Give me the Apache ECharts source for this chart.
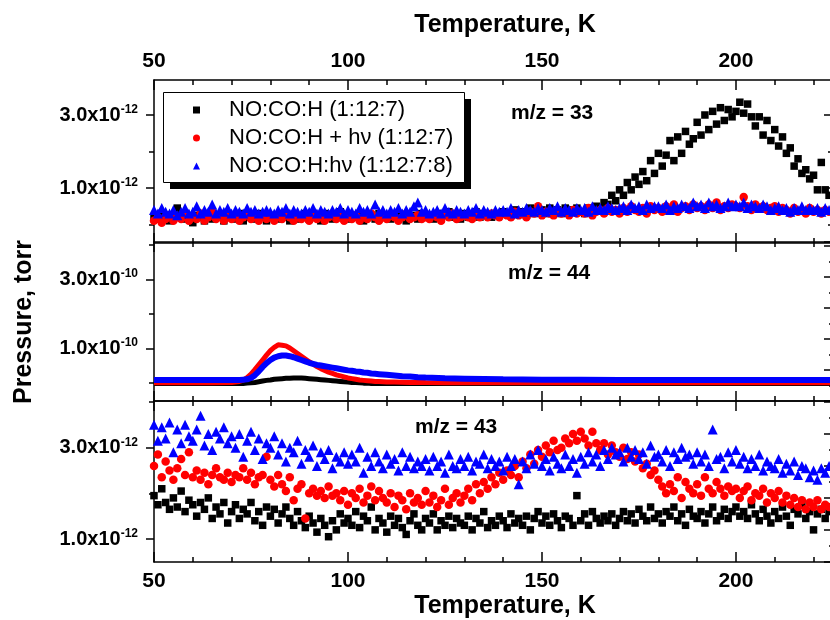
<!DOCTYPE html>
<html><head><meta charset="utf-8">
<script src="https://cdn.jsdelivr.net/npm/echarts@6/dist/echarts.min.js"></script>
<style>html,body{margin:0;padding:0;background:#fff}#c{width:830px;height:620px}</style>
</head><body><div id="c"></div>
<script>
// Temperature (K) for the scatter panels (m/z = 33 and m/z = 43)
const temps = [
50,51,52,53,54,55,56,57,58,59,
60,61,62,63,64,65,66,67,68,69,
70,71,72,73,74,75,76,77,78,79,
80,81,82,83,84,85,86,87,88,89,
90,91,92,93,94,95,96,97,98,99,
100,101,102,103,104,105,106,107,108,109,
110,111,112,113,114,115,116,117,118,119,
120,121,122,123,124,125,126,127,128,129,
130,131,132,133,134,135,136,137,138,139,
140,141,142,143,144,145,146,147,148,149,
150,151,152,153,154,155,156,157,158,159,
160,161,162,163,164,165,166,167,168,169,
170,171,172,173,174,175,176,177,178,179,
180,181,182,183,184,185,186,187,188,189,
190,191,192,193,194,195,196,197,198,199,
200,201,202,203,204,205,206,207,208,209,
210,211,212,213,214,215,216,217,218,219,
220,221,222,223,224];

// m/z = 33, pressure in units of 1e-12 torr
const mz33_noco = [
0.2,0.15,0.3,0.25,0.1,0.2,0.45,0.25,0.15,0.2,
0.05,0.25,0.2,0.1,0.3,0.15,0.25,0.2,0.1,0.25,
0.2,0.15,0.3,0.1,0.2,0.25,0.15,0.3,0.2,0.1,
0.25,0.2,0.15,0.3,0.2,0.1,0.25,0.15,0.2,0.3,
0.15,0.25,0.2,0.1,0.3,0.2,0.15,0.25,0.35,0.2,
0.15,0.25,0.2,0.3,0.1,0.2,0.25,0.15,0.3,0.2,
0.25,0.15,0.2,0.3,0.25,0.1,0.2,0.25,0.15,0.3,
0.2,0.25,0.15,0.3,0.2,0.25,0.35,0.2,0.25,0.15,
0.3,0.2,0.25,0.35,0.2,0.3,0.25,0.2,0.3,0.25,
0.35,0.3,0.25,0.4,0.3,0.35,0.25,0.45,0.3,0.35,
0.4,0.3,0.45,0.35,0.4,0.3,0.45,0.4,0.35,0.45,
0.35,0.3,0.45,0.35,0.5,0.45,0.6,0.55,0.8,0.65,
0.95,0.8,1.15,0.95,1.3,1.1,1.45,1.2,1.75,1.4,
1.95,1.6,1.9,2.3,1.75,2.4,1.95,2.55,2.2,2.35,
2.8,2.45,3.0,2.6,3.1,2.75,3.2,2.85,3.15,2.95,
3.1,3.35,3.05,3.3,2.95,2.7,2.95,2.45,2.85,2.3,
2.6,2.15,2.4,1.95,2.1,1.6,1.8,1.4,1.5,1.25,
1.35,0.95,1.7,0.95,0.8];
const mz33_nocoHv = [
0.1,0.2,0.05,0.15,0.25,0.1,0.2,0.15,0.3,0.1,
0.2,0.15,0.3,0.1,0.2,0.35,0.15,0.25,0.1,0.2,
0.15,0.25,0.1,0.2,0.3,0.15,0.2,0.1,0.25,0.15,
0.2,0.1,0.25,0.15,0.3,0.2,0.1,0.2,0.15,0.25,
0.1,0.2,0.15,0.25,0.1,0.2,0.3,0.15,0.2,0.1,
0.2,0.15,0.25,0.1,0.2,0.15,0.3,0.2,0.1,0.2,
0.15,0.25,0.2,0.1,0.2,0.3,0.15,0.2,0.25,0.15,
0.2,0.15,0.25,0.2,0.1,0.25,0.2,0.3,0.15,0.2,
0.25,0.2,0.15,0.3,0.2,0.25,0.2,0.3,0.25,0.2,
0.3,0.25,0.2,0.35,0.25,0.3,0.2,0.35,0.3,0.5,
0.25,0.35,0.3,0.25,0.4,0.3,0.35,0.25,0.4,0.3,
0.35,0.3,0.45,0.25,0.35,0.4,0.3,0.45,0.35,0.4,
0.3,0.45,0.35,0.5,0.4,0.35,0.45,0.3,0.5,0.4,
0.45,0.35,0.5,0.4,0.55,0.35,0.45,0.5,0.4,0.55,
0.45,0.5,0.4,0.55,0.45,0.6,0.4,0.5,0.45,0.55,
0.5,0.45,0.75,0.5,0.4,0.55,0.45,0.5,0.4,0.45,
0.5,0.35,0.45,0.4,0.3,0.45,0.35,0.4,0.3,0.45,
0.35,0.4,0.3,0.4,0.35];
const mz33_nocoHv8 = [
0.4,0.3,0.45,0.35,0.3,0.4,0.25,0.35,0.45,0.3,
0.35,0.5,0.3,0.4,0.35,0.55,0.3,0.4,0.35,0.45,
0.3,0.4,0.35,0.3,0.45,0.35,0.4,0.3,0.35,0.4,
0.35,0.3,0.4,0.35,0.45,0.3,0.4,0.35,0.3,0.4,
0.35,0.45,0.3,0.4,0.35,0.3,0.4,0.35,0.45,0.3,
0.4,0.35,0.3,0.45,0.35,0.4,0.3,0.55,0.35,0.4,
0.3,0.4,0.35,0.45,0.3,0.4,0.35,0.5,0.6,0.35,
0.4,0.3,0.35,0.4,0.3,0.45,0.35,0.3,0.4,0.35,
0.3,0.4,0.35,0.45,0.3,0.4,0.35,0.3,0.4,0.35,
0.4,0.35,0.45,0.3,0.4,0.35,0.45,0.4,0.35,0.45,
0.4,0.35,0.45,0.4,0.5,0.35,0.45,0.4,0.35,0.45,
0.4,0.45,0.35,0.5,0.4,0.45,0.4,0.5,0.45,0.4,
0.45,0.5,0.4,0.55,0.45,0.5,0.4,0.55,0.45,0.5,
0.5,0.45,0.55,0.4,0.5,0.45,0.55,0.5,0.45,0.6,
0.5,0.55,0.45,0.6,0.5,0.55,0.45,0.5,0.6,0.5,
0.55,0.5,0.6,0.45,0.55,0.5,0.45,0.55,0.5,0.4,
0.45,0.5,0.4,0.45,0.35,0.45,0.4,0.5,0.4,0.45,
0.4,0.45,0.35,0.45,0.4];

// m/z = 44, pressure in units of 1e-10 torr
const temps44 = [50,55,60,65,70,72,73,74,75,76,77,78,79,80,81,82,83,84,85,86,87,88,89,90,91,92,93,94,95,96,97,98,99,100,101,102,103,104,105,106,107,108,109,110,112,114,116,118,120,125,130,140,150,160,170,180,190,200,210,220,224.5];
const mz44_noco = [-0.02,-0.02,-0.02,-0.02,-0.02,-0.02,-0.02,
-0.01,0,0.01,0.03,0.05,0.07,0.08,0.1,0.11,0.12,
0.13,0.13,0.14,0.14,0.14,0.13,0.12,0.11,0.1,0.09,
0.08,0.07,0.06,0.05,0.04,0.03,0.02,0.01,0.01,0,
-0.01,-0.01,-0.02,-0.02,-0.02,-0.02,-0.02,
-0.02,-0.02,-0.02,-0.02,-0.02,-0.02,-0.02,
-0.02,-0.02,-0.02,-0.02,-0.02,-0.02,-0.02,-0.02,-0.02,-0.02];
const mz44_nocoHv = [0,0,0,0,0.01,0.04,0.08,
0.15,0.25,0.38,0.52,0.66,0.8,0.93,1.03,1.1,1.09,
1.07,1.01,0.93,0.85,0.77,0.69,0.61,0.54,0.47,0.41,
0.36,0.31,0.27,0.23,0.2,0.17,0.14,0.12,0.1,0.08,
0.07,0.06,0.05,0.04,0.035,0.03,0.025,
0.02,0.015,0.01,0.01,0.005,0,0,
0,0,0,0,0,0,0,0,0,0];
const mz44_nocoHv8 = [0.08,0.08,0.08,0.08,0.08,0.08,0.09,
0.1,0.14,0.22,0.33,0.46,0.57,0.66,0.73,0.77,0.79,
0.79,0.77,0.74,0.7,0.66,0.62,0.58,0.55,0.52,0.5,
0.48,0.46,0.44,0.42,0.4,0.38,0.36,0.35,0.33,0.32,
0.3,0.29,0.27,0.26,0.25,0.24,0.23,
0.21,0.19,0.18,0.16,0.15,0.13,0.12,
0.1,0.09,0.09,0.08,0.08,0.08,0.08,0.08,0.08,0.08];

// m/z = 43, pressure in units of 1e-12 torr
const mz43_noco = [
1.95,1.75,2.1,1.8,1.65,1.9,1.7,2.05,1.6,1.85,
1.75,1.5,1.8,1.65,1.9,1.45,1.7,1.55,1.8,1.35,
1.6,1.75,1.45,1.65,1.55,1.8,1.4,1.6,1.3,1.7,
1.5,1.65,1.35,1.55,1.7,1.45,1.3,1.6,1.4,1.25,
1.5,1.35,1.15,1.45,1.3,1.05,1.4,1.2,1.55,1.35,
1.45,1.3,1.6,1.25,1.5,1.4,1.7,1.2,1.45,1.35,
1.15,1.5,1.3,1.45,1.25,1.1,1.4,1.55,1.3,1.2,
1.45,1.35,1.55,1.2,1.4,1.3,1.5,1.25,1.45,1.35,
1.3,1.5,1.2,1.45,1.35,1.6,1.25,1.4,1.3,1.5,
1.4,1.25,1.55,1.35,1.45,1.3,1.5,1.2,1.45,1.6,
1.35,1.5,1.3,1.55,1.4,1.25,1.5,1.45,1.3,1.95,
1.4,1.55,1.3,1.6,1.45,1.35,1.5,1.4,1.55,1.3,
1.45,1.6,1.4,1.55,1.35,1.65,1.5,1.4,1.7,1.45,
1.55,1.35,1.6,1.5,1.7,1.4,1.55,1.3,1.65,1.5,
1.45,1.6,1.35,1.55,1.7,1.4,1.5,1.65,1.45,1.6,
1.7,1.5,1.6,1.45,1.75,1.55,1.4,1.65,1.5,1.35,
1.6,1.45,1.7,1.5,1.3,1.65,1.55,1.75,1.45,1.6,
1.2,1.55,1.65,1.45,1.6];
const mz43_nocoHv = [
2.6,2.85,2.35,2.7,2.5,2.3,2.55,2.75,2.4,2.9,
2.35,2.5,2.3,2.45,2.2,2.4,2.55,2.35,2.3,2.45,
2.25,2.4,2.35,2.55,2.3,2.45,2.2,2.35,2.4,2.8,
2.3,2.15,2.4,2.2,2.05,2.35,1.85,2.1,2.2,1.45,
2.0,2.1,1.95,2.05,1.9,2.15,1.95,2.0,1.85,2.05,
1.75,2.0,1.9,2.1,1.8,1.95,2.15,1.85,2.05,1.9,
1.8,2.0,1.7,1.95,1.85,1.65,2.0,1.8,1.9,1.75,
2.05,1.8,1.95,1.7,1.85,2.1,1.75,1.9,2.0,1.8,
1.95,2.1,1.85,2.2,2.0,2.25,2.1,2.35,2.2,2.45,
2.3,2.5,2.4,2.6,2.35,2.7,2.55,2.85,2.65,2.95,
2.8,3.05,2.9,3.15,2.95,3.0,3.2,3.1,3.3,3.15,
3.35,3.2,3.05,3.35,3.1,2.95,3.1,2.85,3.05,2.9,
2.8,3.0,2.75,2.9,2.7,2.85,2.55,2.65,2.4,2.5,
2.3,2.15,2.0,2.2,2.05,2.35,1.9,2.25,2.1,2.0,
2.2,1.95,2.35,2.1,2.0,2.25,2.1,1.95,2.15,2.05,
2.1,1.9,2.05,2.15,1.85,2.0,1.95,2.1,1.8,2.0,
1.9,2.05,1.8,1.95,1.75,1.9,1.7,1.85,1.65,1.8,
1.7,1.85,1.65,1.75,1.7];
const mz43_nocoHv8 = [
3.5,3.15,3.45,3.2,3.55,2.9,3.4,3.1,3.5,3.25,
3.15,3.4,3.7,3.05,3.3,2.95,3.35,3.2,3.45,3.1,
3.25,3.0,3.3,2.8,3.15,3.35,2.95,3.2,2.75,3.1,
3.0,3.25,2.85,3.1,2.7,3.0,2.9,3.15,2.65,2.95,
2.8,3.05,2.6,2.9,2.75,2.95,2.55,2.8,2.7,2.9,
2.65,2.85,2.7,3.0,2.45,2.8,2.6,2.9,2.7,2.55,
2.85,2.65,2.75,2.5,2.9,2.6,2.8,2.55,2.7,2.6,
2.75,2.5,2.8,2.6,2.7,2.45,2.85,2.6,2.55,2.75,
2.6,2.8,2.5,2.7,2.65,2.85,2.55,2.75,2.6,2.7,
2.5,2.8,2.6,2.75,2.2,2.7,2.55,2.85,2.65,2.95,
2.6,2.75,2.5,2.8,2.65,2.55,2.85,2.6,2.75,2.45,
2.8,2.65,2.9,2.7,2.85,2.6,2.95,2.75,3.0,2.85,
2.9,2.7,3.0,2.8,2.95,2.75,2.9,2.65,3.05,2.8,
2.85,2.7,2.95,2.6,2.9,2.75,3.0,2.8,2.85,2.65,
2.9,2.7,2.85,2.6,3.4,2.75,2.8,2.55,2.9,2.7,
2.95,2.65,2.8,2.55,2.75,2.6,2.85,2.5,2.7,2.6,
2.55,2.75,2.45,2.65,2.5,2.7,2.4,2.6,2.55,2.35,
2.5,2.3,2.55,2.45,2.6];

const seriesNames = ['NO:CO:H (1:12:7)', 'NO:CO:H + h\u03bd (1:12:7)', 'NO:CO:H:h\u03bd (1:12:7:8)'];
const xTickLabels = [50, 100, 150, 200];
const yTickLabels = [1, 3];
const panelTitles = ['m/z = 33', 'm/z = 44', 'm/z = 43'];
const panelExponents = ['-12', '-10', '-12'];

const FONT = 'Liberation Sans, Arial, sans-serif';
const BLACK = '#000000', RED = '#ff0000', BLUE = '#0000ff';
const colors = [BLACK, RED, BLUE];
const symbols = ['rect', 'circle', 'triangle'];
const symSizes = [7.5, 8.5, 10];

const L = 154, W = 677;
const grids = [
  {left: L, width: W, top: 80, height: 163, outerBoundsMode: 'none'},
  {left: L, width: W, top: 242, height: 159, outerBoundsMode: 'none'},
  {left: L, width: W, top: 401, height: 161, outerBoundsMode: 'none'}
];
const yRanges = [[-0.507, 3.959], [-0.528, 4.081], [0.496, 4.023]];
const yMinorTicks = [[0, 2], [0, 2, 4], [2, 4]];

const lineSt = {color: '#000', width: 1.5};
const xAxes = [];
for (let g = 0; g < 3; g++) {
  ['bottom', 'top'].forEach(pos => {
    const showLab = (g === 0 && pos === 'top') || (g === 2 && pos === 'bottom');
    xAxes.push({type: 'value', gridIndex: g, position: pos, min: 50, max: 224.5, interval: 10,
      axisLine: {show: true, onZero: false, lineStyle: lineSt},
      axisTick: {show: true, inside: true, length: 5, lineStyle: lineSt},
      axisLabel: {show: false}, splitLine: {show: false}});
    xAxes.push({type: 'value', gridIndex: g, position: pos, min: 50, max: 224.5, interval: 50,
      axisLine: {show: false, onZero: false},
      axisTick: {show: true, inside: true, length: 10, lineStyle: lineSt},
      axisLabel: {show: showLab, margin: pos === 'top' ? 8 : 9,
        formatter: v => (xTickLabels.indexOf(v) >= 0 ? String(v) : ''),
        fontFamily: FONT, fontWeight: 'bold', fontSize: 21, color: '#000'},
      splitLine: {show: false}});
  });
}

const yAxes = [];
const mainY = [];
for (let g = 0; g < 3; g++) {
  const [mn, mx] = yRanges[g];
  const exp = panelExponents[g];
  mainY.push(yAxes.length);
  yAxes.push({type: 'value', gridIndex: g, position: 'left', min: mn, max: mx,
    axisLine: {show: true, onZero: false, lineStyle: lineSt},
    axisTick: {show: true, inside: false, length: 8, lineStyle: lineSt, customValues: yTickLabels},
    axisLabel: {show: true, margin: 16, customValues: yTickLabels,
      formatter: v => '{a|' + v.toFixed(1) + 'x10}{b|' + exp + '}',
      rich: {
        a: {fontFamily: FONT, fontWeight: 'bold', fontSize: 20, color: '#000'},
        b: {fontFamily: FONT, fontWeight: 'bold', fontSize: 12, color: '#000', padding: [0, 0, 11, 0]}
      }},
    splitLine: {show: false}});
  yAxes.push({type: 'value', gridIndex: g, position: 'left', min: mn, max: mx,
    axisLine: {show: false, onZero: false},
    axisTick: {show: true, inside: false, length: 5, lineStyle: lineSt, customValues: yMinorTicks[g]},
    axisLabel: {show: false}, splitLine: {show: false}});
  if (g === 0) {
    yAxes.push({type: 'value', gridIndex: g, position: 'right', min: mn, max: mx,
      axisLine: {show: true, onZero: false, lineStyle: lineSt},
      axisTick: {show: true, inside: true, length: 7, lineStyle: lineSt, customValues: yTickLabels},
      axisLabel: {show: false}, splitLine: {show: false}});
    yAxes.push({type: 'value', gridIndex: g, position: 'right', min: mn, max: mx,
      axisLine: {show: false, onZero: false},
      axisTick: {show: true, inside: true, length: 3, lineStyle: lineSt, customValues: yMinorTicks[g]},
      axisLabel: {show: false}, splitLine: {show: false}});
  } else {
    const h = grids[g].height;
    yAxes.push({type: 'value', gridIndex: g, position: 'right', min: 0, max: h, interval: g === 1 ? 31 : 32,
      axisLine: {show: true, onZero: false, lineStyle: lineSt},
      axisTick: {show: true, inside: true, length: 7, lineStyle: lineSt},
      minorTick: {show: true, splitNumber: 2, length: 2, lineStyle: {color: '#000', width: 1.5}},
      axisLabel: {show: false}, splitLine: {show: false}});
  }
}

const series = [];
const p33 = [mz33_noco, mz33_nocoHv, mz33_nocoHv8];
const p44 = [mz44_noco, mz44_nocoHv, mz44_nocoHv8];
const p43 = [mz43_noco, mz43_nocoHv, mz43_nocoHv8];
for (let s = 0; s < 3; s++) {
  series.push({type: 'scatter', name: seriesNames[s], xAxisIndex: 0, yAxisIndex: mainY[0],
    symbol: symbols[s], symbolSize: symSizes[s], itemStyle: {color: colors[s], opacity: 1},
    data: temps.map((t, i) => [t, p33[s][i]]), clip: true, z: 2 + s});
}
const lw = [5, 5, 6];
for (let s = 0; s < 3; s++) {
  series.push({type: 'line', name: seriesNames[s], xAxisIndex: 4, yAxisIndex: mainY[1],
    showSymbol: false, symbol: symbols[s], itemStyle: {color: colors[s]},
    lineStyle: {color: colors[s], width: lw[s]},
    data: temps44.map((t, i) => [t, p44[s][i]]), clip: true, z: 2 + s});
}
for (let s = 0; s < 3; s++) {
  series.push({type: 'scatter', name: seriesNames[s], xAxisIndex: 8, yAxisIndex: mainY[2],
    symbol: symbols[s], symbolSize: symSizes[s], itemStyle: {color: colors[s], opacity: 1},
    data: temps.map((t, i) => [t, p43[s][i]]), clip: true, z: 2 + s});
}

const txt = (x, y, text, size, align, rot) => ({type: 'text', x: x, y: y, z: 100, rotation: rot || 0,
  style: {text: text, fill: '#000', fontFamily: FONT, fontWeight: 'bold', fontSize: size,
    align: align || 'left', verticalAlign: 'middle'}});

const graphic = [
  // legend frame: solid offset shadow + white box with thin border
  {type: 'rect', z: 1, shape: {x: 170, y: 99, width: 301, height: 90}, style: {fill: '#000'}},
  {type: 'rect', z: 1, shape: {x: 163.5, y: 92.5, width: 301, height: 90}, style: {fill: '#fff', stroke: '#000', lineWidth: 1}},
  txt(505, 25, 'Temperature, K', 25, 'center'),
  txt(505, 606, 'Temperature, K', 25, 'center'),
  txt(24, 322, 'Pressure, torr', 25, 'center', Math.PI / 2),
  txt(511, 113, panelTitles[0], 21),
  txt(508, 273, panelTitles[1], 21),
  txt(415, 427, panelTitles[2], 21)
];

const chart = echarts.init(document.getElementById('c'), null, {renderer: 'canvas'});
chart.setOption({
  animation: false,
  backgroundColor: '#fff',
  grid: grids,
  xAxis: xAxes,
  yAxis: yAxes,
  legend: {
    show: true, left: 163, top: 92, orient: 'vertical', selectedMode: false, z: 10,
    data: seriesNames.map((n, i) => ({name: n, icon: symbols[i]})),
    itemWidth: 7, itemHeight: 7, itemGap: 6,
    padding: [7, 7, 4, 30],
    backgroundColor: 'transparent', borderWidth: 0,
    textStyle: {fontFamily: FONT, fontSize: 22, color: '#000', lineHeight: 22, padding: [0, 0, 0, 24]}
  },
  graphic: graphic,
  series: series
});
</script></body></html>
